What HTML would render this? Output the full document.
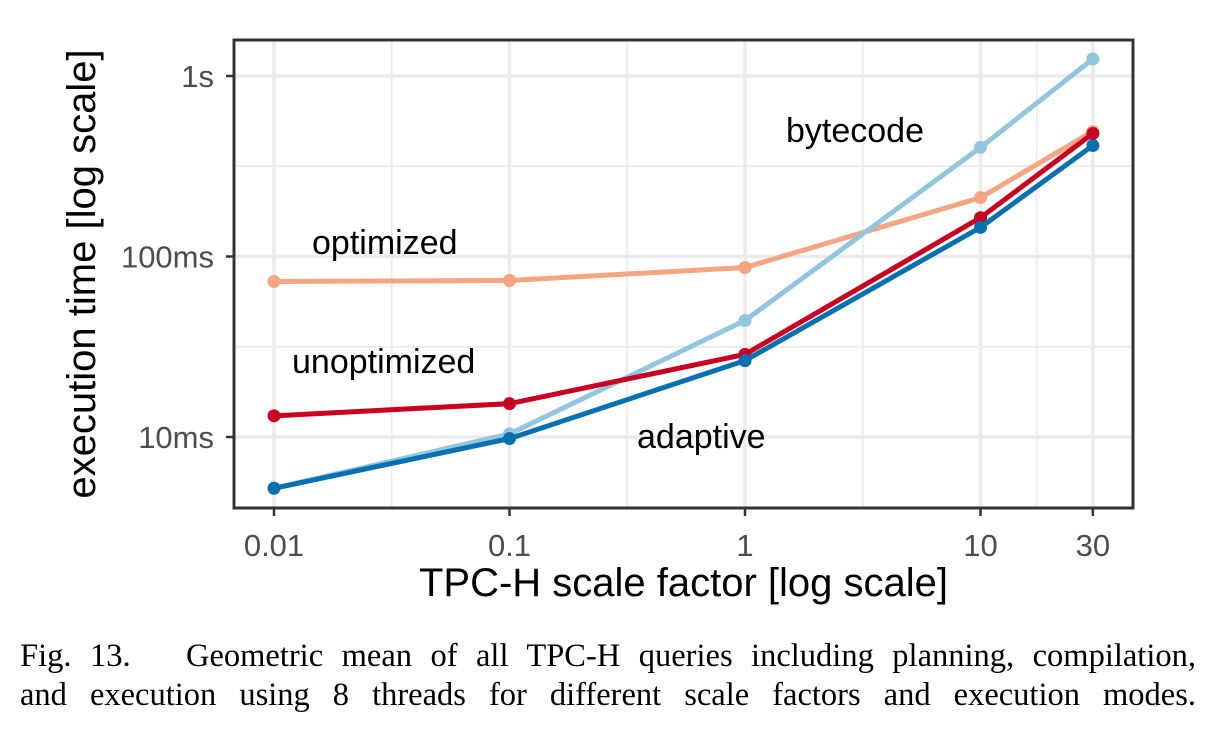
<!DOCTYPE html>
<html><head><meta charset="utf-8"><style>
body{margin:0;background:#fff;width:1214px;height:742px;overflow:hidden}
svg{display:block}
.cap{position:absolute;left:20px;width:1176px;font-family:'Liberation Serif',serif;font-size:32.5px;text-align:justify;text-align-last:justify;white-space:nowrap}
</style></head><body>
<svg id="chart" width="1214" height="742" font-family="Liberation Sans, sans-serif"></svg>
<script>
const scaleFactors=[0.01,0.1,1,10,30];
const optimized=[72.7,73.6,86.9,212,493];
const unoptimized=[13.1,15.3,28.7,164,480];
const bytecode=[5.2,10.4,44.2,402,1243];
const adaptive=[5.2,9.8,26.5,145,412];
const xTicks=[0.01,0.1,1,10,30];
const xTickLabels=["0.01","0.1","1","10","30"];
const yTicks=[10,100,1000];
const yTickLabels=["10ms","100ms","1s"];
const svg=document.getElementById('chart');
const NS='http://www.w3.org/2000/svg';
const L=234,R=1133,T=40,B=508;
const x=v=>274+(Math.log10(v)+2)*235.5;
const y=v=>437-(Math.log10(v)-1)*180.5;
function mk(tag,attrs,parent){const e=document.createElementNS(NS,tag);for(const k in attrs)e.setAttribute(k,attrs[k]);(parent||svg).appendChild(e);return e;}
const grid=mk('g',{});


[0.0316227766,0.316227766,3.16227766,17.3205].forEach(v=>mk('line',{x1:x(v),x2:x(v),y1:T,y2:B,stroke:'#ebebeb','stroke-width':1.8},grid));
[31.6227766,316.227766].forEach(v=>mk('line',{x1:L,x2:R,y1:y(v),y2:y(v),stroke:'#ebebeb','stroke-width':1.8},grid));
xTicks.forEach(v=>mk('line',{x1:x(v),x2:x(v),y1:T,y2:B,stroke:'#ebebeb','stroke-width':3.5},grid));
yTicks.forEach(v=>mk('line',{x1:L,x2:R,y1:y(v),y2:y(v),stroke:'#ebebeb','stroke-width':3.5},grid));
const series=[["optimized",optimized,"#f4a582"],["bytecode",bytecode,"#92c5de"],["unoptimized",unoptimized,"#ca0020"],["adaptive",adaptive,"#0571b0"]];
series.forEach(([name,vals,col])=>{
  const g=mk('g',{});
  
  
  const pl=mk('polyline',{points:vals.map((v,i)=>x(scaleFactors[i])+','+y(v)).join(' '),fill:'none',stroke:col,'stroke-width':5},g);
  
  
  vals.forEach((v,i)=>{const c=mk('circle',{cx:x(scaleFactors[i]),cy:y(v),r:6.5,fill:col},g);
    
    });
});
mk('rect',{x:L,y:T,width:R-L,height:B-T,fill:'none',stroke:'#333','stroke-width':3});
xTicks.forEach((v,i)=>{mk('line',{x1:x(v),x2:x(v),y1:B,y2:B+8,stroke:'#333','stroke-width':2.5});
  const t=mk('text',{x:x(v),y:B+48,'text-anchor':'middle','font-size':31,fill:'#4d4d4d'});t.textContent=xTickLabels[i];
  });
yTicks.forEach((v,i)=>{mk('line',{x1:L-8,x2:L,y1:y(v),y2:y(v),stroke:'#333','stroke-width':2.5});
  const t=mk('text',{x:L-20,y:y(v)+11,'text-anchor':'end','font-size':31,fill:'#4d4d4d'});t.textContent=yTickLabels[i];
  });
const labels=[["optimized",312,254],["unoptimized",292,373],["bytecode",786,142],["adaptive",637,448]];
labels.forEach(([s,lx,ly])=>{const t=mk('text',{x:lx,y:ly,'font-size':34,fill:'#000'});t.textContent=s;
  });
</script>
<div style="position:absolute;left:0;top:0;width:1214px;height:742px;pointer-events:none;font-family:'Liberation Sans',sans-serif">
<div style="position:absolute;left:234px;width:899px;top:561px;text-align:center;font-size:40px">TPC-H scale factor [log scale]</div>
<div style="position:absolute;left:82px;top:274px;width:520px;margin-left:-260px;text-align:center;font-size:40px;transform:rotate(-90deg);transform-origin:center;line-height:46px;margin-top:-23px">execution time [log scale]</div>
<div class="cap" style="top:638px">Fig. 13.&nbsp;&nbsp;&nbsp;Geometric mean of all TPC-H queries including planning, compilation,</div>
<div class="cap" style="top:677px">and execution using 8 threads for different scale factors and execution modes.</div>
</div>
</body></html>
